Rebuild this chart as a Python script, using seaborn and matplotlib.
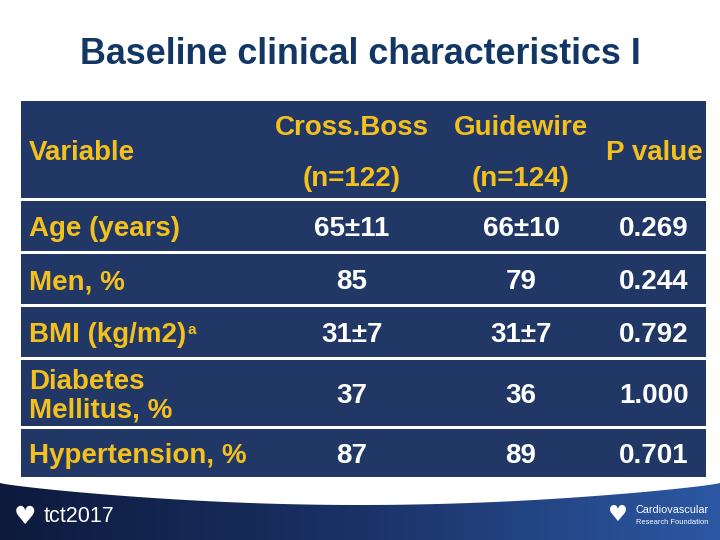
import numpy as np
import matplotlib
matplotlib.use("Agg")
import matplotlib.pyplot as plt
import seaborn as sns
from matplotlib.patches import Rectangle, Polygon

# -------------------------------
# Datos de la tabla
# -------------------------------
title = "Baseline clinical characteristics I"
header_variable = "Variable"
groups = ["Cross.Boss", "Guidewire"]
group_n = ["(n=122)", "(n=124)"]
header_p = "P value"

variables = ["Age (years)", "Men, %", "BMI (kg/m2)", "Diabetes\nMellitus, %", "Hypertension, %"]
footnote_marks = ["", "", "a", "", ""]
crossboss = ["65±11", "85", "31±7", "37", "87"]
guidewire = ["66±10", "79", "31±7", "36", "89"]
p_values = ["0.269", "0.244", "0.792", "1.000", "0.701"]

# -------------------------------
# Estilo / layout (pixeles de la diapositiva)
# -------------------------------
sns.set_theme(style="white")
plt.rcParams['font.family'] = ['Liberation Sans', 'DejaVu Sans']

NAVY = "#213866"
GOLD = "#F4C01E"
TITLE_COL = "#123764"
FS = 20

x_left, x_right = 21, 706
header_box = (101, 198)
row_boxes = [(201, 251), (254, 304), (307, 357), (360, 426), (429, 477)]
col_label_x = 29
col_x = [352, 521, 654]

fig = plt.figure(figsize=(7.2, 5.4), dpi=100)
ax = fig.add_axes([0, 0, 1, 1])
ax.set_xlim(0, 720)
ax.set_ylim(540, 0)
ax.axis("off")

# titulo
ax.text(360, 54, title, ha="center", va="center", fontsize=25.8,
        fontweight="bold", color=TITLE_COL)

# fondos de filas
for top, bot in [header_box] + row_boxes:
    ax.add_patch(Rectangle((x_left, top), x_right - x_left, bot - top,
                           facecolor=NAVY, edgecolor="none"))

# encabezado
h_mid = (header_box[0] + header_box[1]) / 2 + 3
ax.text(col_label_x, h_mid, header_variable, ha="left", va="center",
        fontsize=FS, fontweight="bold", color=GOLD)
for i, (g, n) in enumerate(zip(groups, group_n)):
    ax.text(col_x[i], 128, g, ha="center", va="center", fontsize=FS,
            fontweight="bold", color=GOLD)
    ax.text(col_x[i], 179, n, ha="center", va="center", fontsize=FS,
            fontweight="bold", color=GOLD)
ax.text(x_right - 3, h_mid, header_p, ha="right", va="center", fontsize=FS,
        fontweight="bold", color=GOLD)

# filas
fig.canvas.draw()
renderer = fig.canvas.get_renderer()
for (top, bot), var, mark, a, b, p in zip(row_boxes, variables, footnote_marks,
                                          crossboss, guidewire, p_values):
    mid = (top + bot) / 2 + 3
    t = ax.text(col_label_x, mid, var, ha="left", va="center", fontsize=FS,
                fontweight="bold", color=GOLD, linespacing=1.12)
    if mark:
        bb = t.get_window_extent(renderer=renderer)
        ax.text(bb.x1 + 1, mid - 5, mark, ha="left", va="center",
                fontsize=11, fontweight="bold", color=GOLD)
    for x, val in zip(col_x, [a, b, p]):
        ax.text(x, mid, val, ha="center", va="center", fontsize=FS,
                fontweight="bold", color="white")

# banda inferior con degradado
xs = np.linspace(0, 720, 200)
top_curve = 483 + 22 * np.sin(np.pi * xs / 720) ** 0.8
verts = [(0, 540)] + list(zip(xs, top_curve)) + [(720, 540)]
clip = Polygon(verts, closed=True, facecolor="none", edgecolor="none")
ax.add_patch(clip)
grad = np.linspace(0, 1, 256).reshape(1, -1)
cmap = matplotlib.colors.LinearSegmentedColormap.from_list(
    "band", ["#0d1a3d", "#1b3266", "#2c58a3"])
im = ax.imshow(grad, extent=(0, 720, 540, 478), cmap=cmap, aspect="auto", zorder=1)
im.set_clip_path(clip)
ax.set_xlim(0, 720)
ax.set_ylim(540, 0)

# logos (texto)
ax.text(14, 517, "\u2665", ha="left", va="center", fontsize=18, color="white",
        family=["DejaVu Sans"], zorder=3)
ax.text(44, 517, "tct2017", ha="left", va="center", fontsize=15.5, color="white", zorder=3)
ax.text(608, 515, "\u2665", ha="left", va="center", fontsize=16, color="white",
        family=["DejaVu Sans"], zorder=3)
ax.text(636, 510, "Cardiovascular", ha="left", va="center", fontsize=7.8,
        color="white", zorder=3)
ax.text(636, 522, "Research Foundation", ha="left", va="center", fontsize=5.4,
        color="white", zorder=3)

fig.savefig("out.png", dpi=100)
